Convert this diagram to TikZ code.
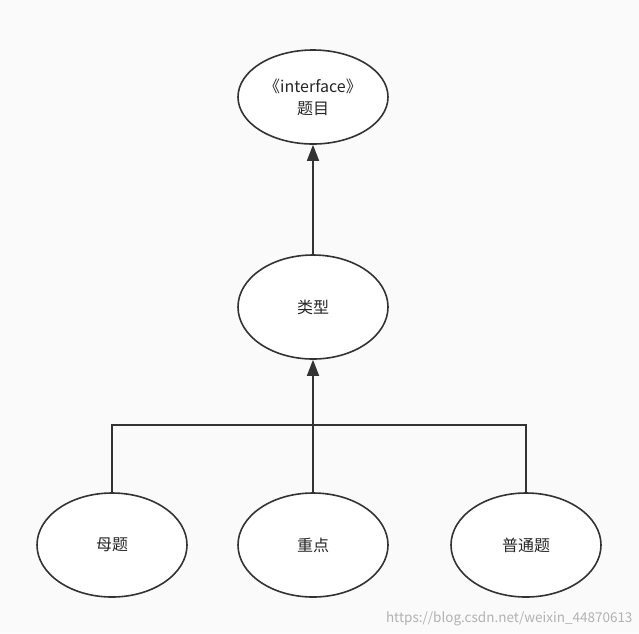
\documentclass[tikz,border=0pt]{standalone}
\usepackage{fontspec}
\setmainfont{Noto Sans CJK SC}
\usetikzlibrary{arrows.meta,shapes.geometric}
\begin{document}
\begin{tikzpicture}[x=1pt,y=-1pt,
  el/.style={draw=black!80,line width=1.6pt,fill=white,ellipse,minimum width=150pt,minimum height=100pt,font=\fontsize{16}{22}\selectfont,text=black!85,align=center,inner sep=0pt},
  ln/.style={draw=black!80,line width=1.6pt},
  inh/.style={ln,-{Triangle[length=16pt,width=12pt]}}]
\fill[black!2] (0,0) rectangle (639,633);
\node[el,minimum height=94pt] (iface) at (313,97) {《interface》\\题目};
\node[el,minimum height=104pt] (type) at (313,307) {类型};
\node[el,minimum height=104pt] (mu) at (112,545) {母题};
\node[el,minimum height=104pt] (zd) at (313,545) {重点};
\node[el,minimum height=104pt] (pt) at (526,545) {普通题};
\coordinate (j) at (313,425);
\draw[inh] (type) -- (iface);
\draw[inh] (zd) -- (type);
\draw[ln] (mu.north) |- (j) -| (pt.north);
\node[text=black!30,font=\fontsize{13.5}{15}\selectfont,anchor=south east] (wm) at (636,629) {https://blog.csdn.net/weixin\_44870613};
\end{tikzpicture}
\end{document}
